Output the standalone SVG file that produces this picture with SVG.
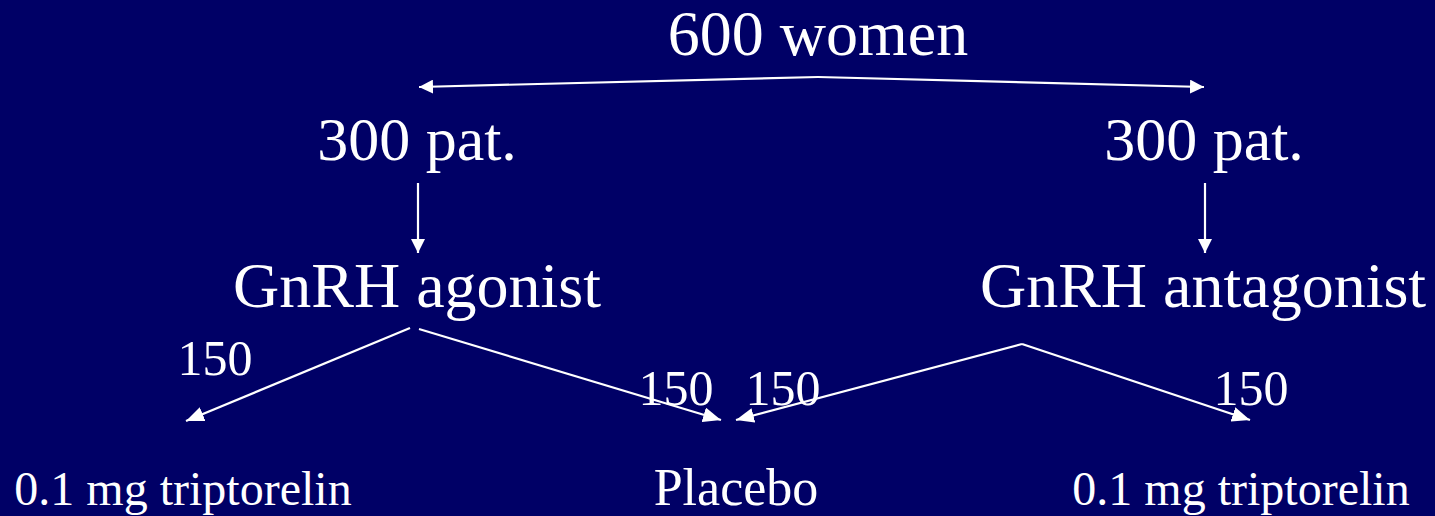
<svg xmlns="http://www.w3.org/2000/svg" width="1435" height="516" viewBox="0 0 1435 516">
<style>
text{font-family:'Liberation Serif','Times New Roman','DejaVu Serif',serif;fill:#ffffff;text-anchor:middle}
.big{font-size:64px}
.mid{font-size:62px}
.num{font-size:50px}
.leaf{font-size:48px}
.plc{font-size:52px}
.c{stroke:#ffffff;stroke-width:2.2;fill:none}
</style>
<defs>
<marker id="ah" markerUnits="userSpaceOnUse" markerWidth="19" markerHeight="15" refX="18" refY="7.5" orient="auto">
<path d="M0,0 L18,7.5 L0,15 z" fill="#ffffff"/>
</marker>
<marker id="ahs" markerUnits="userSpaceOnUse" markerWidth="15" markerHeight="14" refX="14" refY="7" orient="auto">
<path d="M0,0 L14,7 L0,14 z" fill="#ffffff"/>
</marker>
</defs>
<rect width="1435" height="516" fill="#000066"/>
<g id="connectors">
<polyline class="c" points="818,77 419,87" marker-end="url(#ahs)"/>
<polyline class="c" points="818,77 1204,87" marker-end="url(#ahs)"/>
<line class="c" x1="418" y1="183" x2="418" y2="253" marker-end="url(#ahs)"/>
<line class="c" x1="1205" y1="183" x2="1205" y2="253" marker-end="url(#ahs)"/>
<line class="c" x1="410" y1="328" x2="186" y2="421" marker-end="url(#ah)"/>
<line class="c" x1="419" y1="329" x2="721" y2="420" marker-end="url(#ah)"/>
<line class="c" x1="1022" y1="344" x2="736" y2="420" marker-end="url(#ah)"/>
<line class="c" x1="1022" y1="344" x2="1250" y2="420" marker-end="url(#ah)"/>
</g>
<g id="root"><text class="big" x="818" y="55">600 women</text></g>
<g id="pat-left"><text class="mid" x="417" y="160">300 pat.</text></g>
<g id="pat-right"><text class="mid" x="1204" y="160">300 pat.</text></g>
<g id="agonist"><text class="big" x="417" y="307">GnRH agonist</text></g>
<g id="antagonist"><text class="big" x="1203" y="307">GnRH antagonist</text></g>
<g id="n1"><text class="num" x="215" y="375">150</text></g>
<g id="n2"><text class="num" x="676" y="405">150</text></g>
<g id="n3"><text class="num" x="783" y="405">150</text></g>
<g id="n4"><text class="num" x="1251" y="405">150</text></g>
<g id="trip-left"><text class="leaf" x="183" y="505">0.1 mg triptorelin</text></g>
<g id="placebo"><text class="plc" x="736" y="505">Placebo</text></g>
<g id="trip-right"><text class="leaf" x="1241" y="505">0.1 mg triptorelin</text></g>
</svg>
